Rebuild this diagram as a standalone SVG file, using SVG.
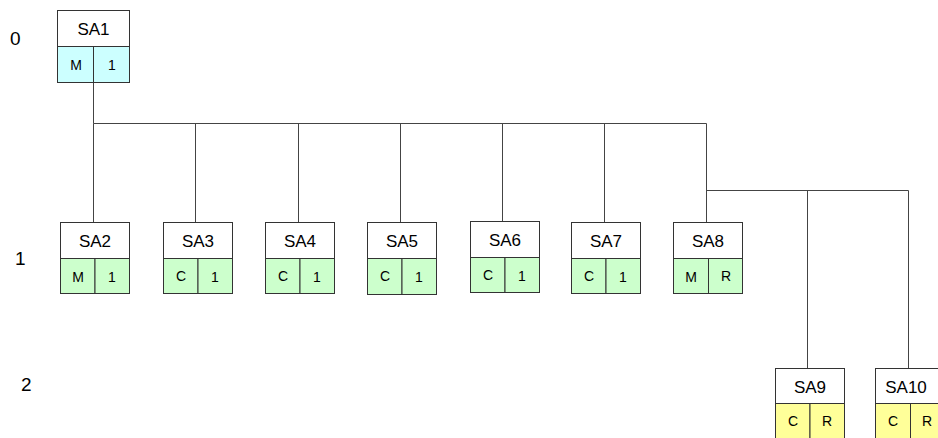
<svg xmlns="http://www.w3.org/2000/svg" width="938" height="438" viewBox="0 0 938 438">
<style>
.hd{fill:#fff;stroke:#333;stroke-width:1}
.c0{fill:#ccffff;stroke:#333;stroke-width:1}
.c1{fill:#ccffcc;stroke:#333;stroke-width:1}
.c2{fill:#ffff99;stroke:#333;stroke-width:1}
.t{font-family:"Liberation Sans",Arial,sans-serif;font-size:17px;fill:#000;text-anchor:middle}
.s{font-family:"Liberation Sans",Arial,sans-serif;font-size:14px;fill:#000;text-anchor:middle}
.lv{font-family:"Liberation Sans",Arial,sans-serif;font-size:19px;fill:#000}
.ln{stroke:#444;stroke-width:1;fill:none}
</style>
<g id="levels">
<text class="lv" x="10" y="45">0</text>
<text class="lv" x="15" y="265">1</text>
<text class="lv" x="21" y="391">2</text>
</g>
<g id="connectors">
<path class="ln" d="M93.5 83V123.5H706.5M195.5 123.5V222M298.5 123.5V222M400.5 123.5V222M502.5 123.5V222M604.5 123.5V222M706.5 123.5V222M93.5 123.5V222"/>
<path class="ln" d="M706.5 190.5H908.5V368M807.5 190.5V368"/>
</g>
<g id="SA1">
<rect class="hd" x="57.5" y="10.5" width="72" height="36"/>
<rect class="c0" x="57.5" y="46.5" width="36" height="36"/>
<rect class="c0" x="93.5" y="46.5" width="36" height="36"/>
<text class="t" x="93.5" y="35">SA1</text>
<text class="s" x="76" y="70">M</text>
<text class="s" x="112" y="70">1</text>
</g>
<g id="SA2">
<rect class="hd" x="60.5" y="222.5" width="69" height="36"/>
<rect class="c1" x="60.5" y="258.5" width="34.5" height="35"/>
<rect class="c1" x="95" y="258.5" width="34.5" height="35"/>
<text class="t" x="95" y="247">SA2</text>
<text class="s" x="78" y="282">M</text>
<text class="s" x="112" y="282">1</text>
</g>
<g id="SA3">
<rect class="hd" x="163.5" y="222.5" width="69" height="36"/>
<rect class="c1" x="163.5" y="258.5" width="34.5" height="35"/>
<rect class="c1" x="198" y="258.5" width="34.5" height="35"/>
<text class="t" x="198" y="247">SA3</text>
<text class="s" x="181" y="281">C</text>
<text class="s" x="215" y="282">1</text>
</g>
<g id="SA4">
<rect class="hd" x="265.5" y="222.5" width="69" height="36"/>
<rect class="c1" x="265.5" y="258.5" width="34.5" height="35"/>
<rect class="c1" x="300" y="258.5" width="34.5" height="35"/>
<text class="t" x="300" y="247">SA4</text>
<text class="s" x="283" y="281">C</text>
<text class="s" x="317" y="282">1</text>
</g>
<g id="SA5">
<rect class="hd" x="367.5" y="222.5" width="69" height="36"/>
<rect class="c1" x="367.5" y="258.5" width="34.5" height="36"/>
<rect class="c1" x="402" y="258.5" width="34.5" height="36"/>
<text class="t" x="402" y="247">SA5</text>
<text class="s" x="385" y="281">C</text>
<text class="s" x="419" y="282">1</text>
</g>
<g id="SA6">
<rect class="hd" x="470.5" y="221.5" width="69" height="36"/>
<rect class="c1" x="470.5" y="257.5" width="34.5" height="35"/>
<rect class="c1" x="505" y="257.5" width="34.5" height="35"/>
<text class="t" x="505" y="246">SA6</text>
<text class="s" x="488" y="280">C</text>
<text class="s" x="522" y="281">1</text>
</g>
<g id="SA7">
<rect class="hd" x="571.5" y="222.5" width="69" height="36"/>
<rect class="c1" x="571.5" y="258.5" width="34.5" height="35"/>
<rect class="c1" x="606" y="258.5" width="34.5" height="35"/>
<text class="t" x="606" y="247">SA7</text>
<text class="s" x="589" y="281">C</text>
<text class="s" x="623" y="282">1</text>
</g>
<g id="SA8">
<rect class="hd" x="673.5" y="222.5" width="69" height="36"/>
<rect class="c1" x="673.5" y="258.5" width="35" height="35"/>
<rect class="c1" x="708.5" y="258.5" width="34" height="35"/>
<text class="t" x="708" y="247">SA8</text>
<text class="s" x="691" y="282">M</text>
<text class="s" x="726" y="281">R</text>
</g>
<g id="SA9">
<rect class="hd" x="775.5" y="368.5" width="69" height="35"/>
<rect class="c2" x="775.5" y="403.5" width="34.5" height="36"/>
<rect class="c2" x="810" y="403.5" width="34.5" height="36"/>
<text class="t" x="810" y="393">SA9</text>
<text class="s" x="793" y="426">C</text>
<text class="s" x="827" y="426">R</text>
</g>
<g id="SA10">
<rect class="hd" x="875.5" y="368.5" width="69" height="35"/>
<rect class="c2" x="875.5" y="403.5" width="35" height="36"/>
<rect class="c2" x="910.5" y="403.5" width="34" height="36"/>
<text class="t" x="906" y="393">SA10</text>
<text class="s" x="893" y="426">C</text>
<text class="s" x="927" y="426">R</text>
</g>
</svg>
